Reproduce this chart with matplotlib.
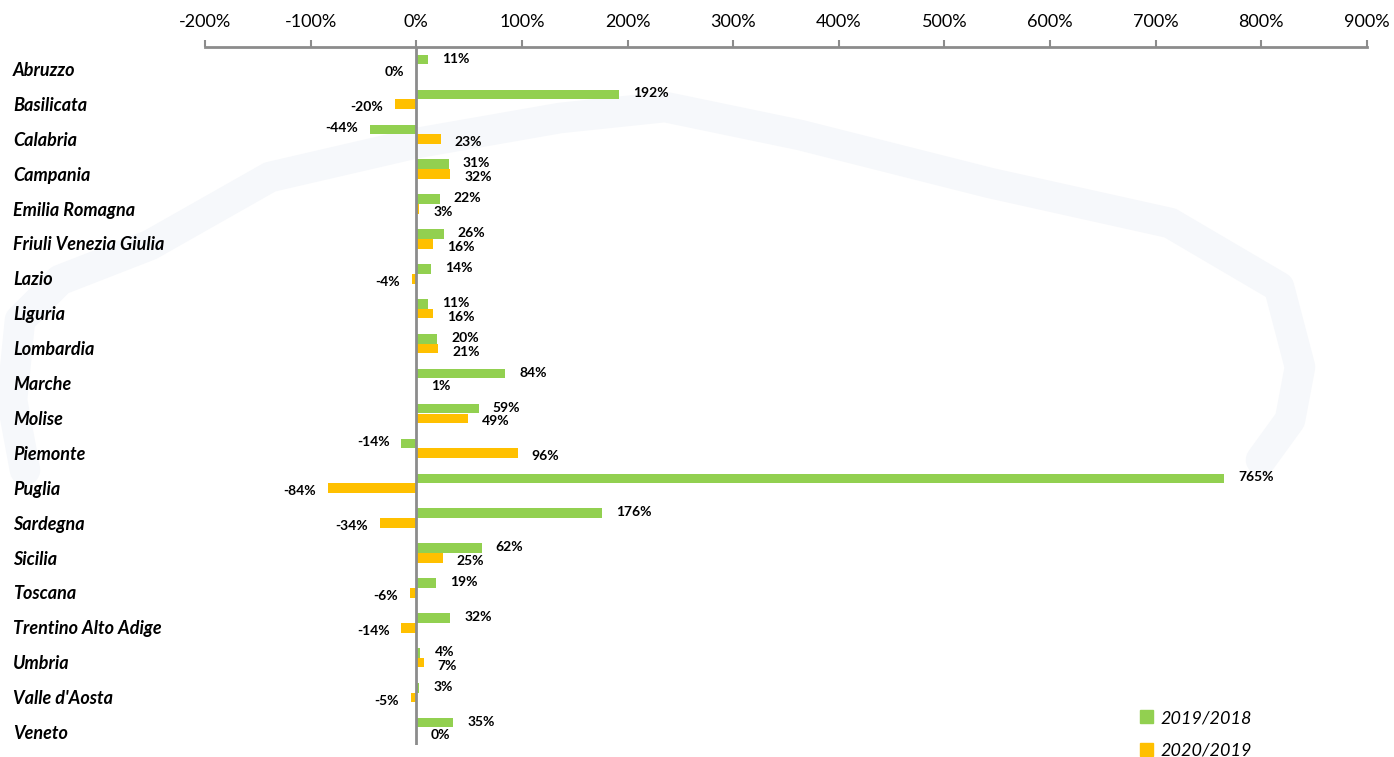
import matplotlib
matplotlib.use("Agg")
import matplotlib.pyplot as plt
import numpy as np
from matplotlib.patches import Patch
from matplotlib.lines import Line2D
from matplotlib.font_manager import FontProperties
from matplotlib.ticker import FuncFormatter

regions = ["Abruzzo", "Basilicata", "Calabria", "Campania", "Emilia Romagna",
           "Friuli Venezia Giulia", "Lazio", "Liguria", "Lombardia", "Marche",
           "Molise", "Piemonte", "Puglia", "Sardegna", "Sicilia", "Toscana",
           "Trentino Alto Adige", "Umbria", "Valle d'Aosta", "Veneto"]
var_2019_2018 = [11, 192, -44, 31, 22, 26, 14, 11, 20, 84, 59, -14, 765, 176, 62, 19, 32, 4, 3, 35]
var_2020_2019 = [-0.3, -20, 23, 32, 3, 16, -4, 16, 21, 1, 49, 96, -84, -34, 25, -6, -14, 7, -5, 0.3]
series_labels = ["2019/2018", "2020/2019"]
x_ticks = list(range(-200, 1000, 100))

GREEN = "#92D050"
ORANGE = "#FFC000"
GREY = "#8C8C8C"
W, H = 1394, 757

plt.rcParams['font.family'] = ['Lato', 'DejaVu Sans']

fig = plt.figure(figsize=(W / 100, H / 100), dpi=100)

def fx(px):
    return px / W

def fy(py):
    return 1 - py / H

# very faint watermark outline (background decoration)
wm_x = [25, 12, 20, 60, 150, 270, 417, 560, 665, 800, 990, 1170, 1279, 1300, 1290, 1261]
wm_y = [470, 400, 320, 280, 245, 177, 143, 118, 107, 135, 183, 223, 287, 367, 420, 460]
fig.add_artist(Line2D([fx(v) for v in wm_x], [fy(v) for v in wm_y], color="#F6F8FB",
                      lw=22, solid_capstyle="round", solid_joinstyle="round", zorder=-5))

ax = fig.add_axes([fx(205), fy(745), fx(1367) - fx(205), fy(47) - fy(745)])
ax.patch.set_alpha(0)

y = np.arange(len(regions))
bh = 0.275
ax.barh(y - 0.14, var_2019_2018, height=bh, color=GREEN, label=series_labels[0], zorder=2)
ax.barh(y + 0.14, var_2020_2019, height=bh, color=ORANGE, label=series_labels[1], zorder=2)

ax.set_xlim(-200, 900)
ax.set_ylim(len(regions) - 0.5, -0.5)
ax.axvline(0, color=GREY, lw=2, zorder=3)

ax.xaxis.tick_top()
ax.set_xticks(x_ticks)
ax.xaxis.set_major_formatter(FuncFormatter(lambda v, p: f"{int(v)}%"))
ax.tick_params(axis="x", direction="out", length=5, width=1.5, color=GREY,
               labelsize=13, pad=7.5, labelcolor="black")
ax.set_yticks([])
for s in ["left", "right", "bottom"]:
    ax.spines[s].set_visible(False)
ax.spines["top"].set_color(GREY)
ax.spines["top"].set_linewidth(2)

# category labels
for i, name in enumerate(regions):
    ax.annotate(name, xy=(fx(13), i), xycoords=("figure fraction", "data"),
                xytext=(0, -6), textcoords="offset pixels", ha="left", va="center",
                fontsize=13, fontweight="bold", style="italic")

# data labels
def put_labels(vals, offs, dy):
    for i, v in enumerate(vals):
        txt = f"{round(v)}%"
        if v >= 0:
            ax.annotate(txt, xy=(v, i + offs), xytext=(14, dy), textcoords="offset pixels",
                        ha="left", va="center", fontsize=10, fontweight="bold")
        else:
            ax.annotate(txt, xy=(v, i + offs), xytext=(-12, dy), textcoords="offset pixels",
                        ha="right", va="center", fontsize=10, fontweight="bold")

put_labels(var_2019_2018, -0.14, 1)
put_labels(var_2020_2019, 0.14, -3)

handles = [Patch(color=GREEN, label=series_labels[0]), Patch(color=ORANGE, label=series_labels[1])]
fig.legend(handles=handles, loc="upper left", bbox_to_anchor=(fx(1140), fy(710)),
           frameon=False, prop=FontProperties(family="Lato", style="italic", size=13),
           handlelength=0.7, handleheight=0.7, handletextpad=0.45, labelspacing=0.92,
           borderpad=0, borderaxespad=0)

fig.savefig("out.png", dpi=100)
